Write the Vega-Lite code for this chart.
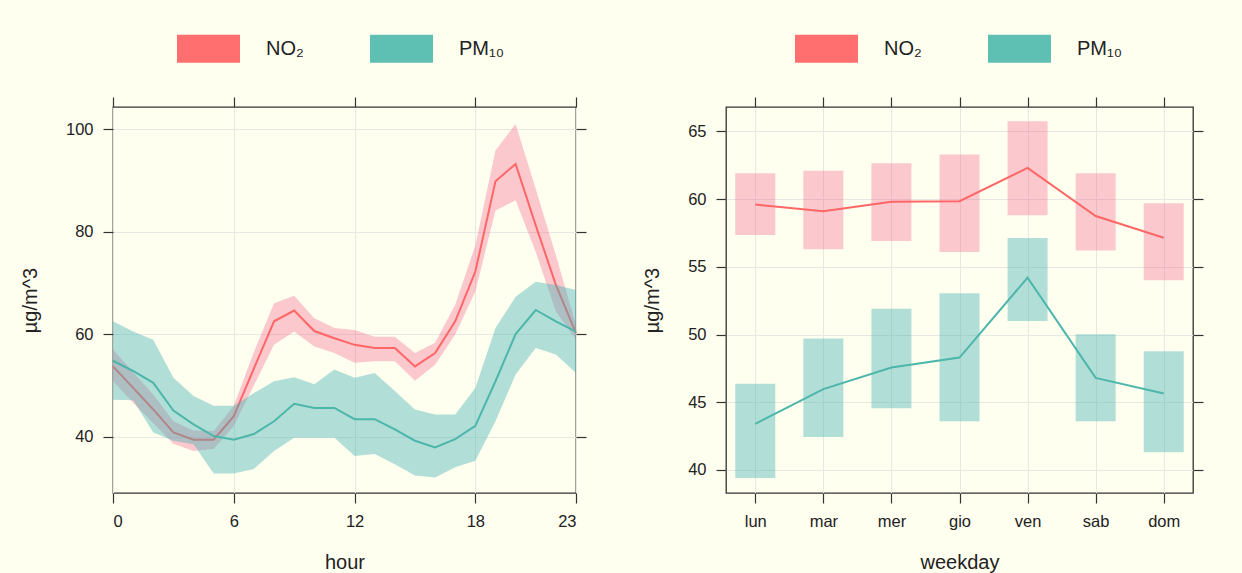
{
  "$schema": "https://vega.github.io/schema/vega-lite/v6.json",
  "padding": {"left": 19, "top": 16, "right": 39, "bottom": 10},
  "background": "#FFFFF0",
  "datasets": {
    "hourly": [
      {"hour": 0, "pollutant": "NO2", "mean": 53.7, "lower": 50.8, "upper": 57.0},
      {"hour": 1, "pollutant": "NO2", "mean": 49.5, "lower": 46.6, "upper": 52.6},
      {"hour": 2, "pollutant": "NO2", "mean": 45.3, "lower": 42.6, "upper": 48.2},
      {"hour": 3, "pollutant": "NO2", "mean": 40.8, "lower": 38.6, "upper": 43.0},
      {"hour": 4, "pollutant": "NO2", "mean": 39.4, "lower": 37.2, "upper": 41.2},
      {"hour": 5, "pollutant": "NO2", "mean": 39.4, "lower": 37.6, "upper": 41.1},
      {"hour": 6, "pollutant": "NO2", "mean": 44.0, "lower": 42.0, "upper": 46.0},
      {"hour": 7, "pollutant": "NO2", "mean": 53.3, "lower": 50.0, "upper": 56.5},
      {"hour": 8, "pollutant": "NO2", "mean": 62.5, "lower": 57.9, "upper": 66.0},
      {"hour": 9, "pollutant": "NO2", "mean": 64.6, "lower": 60.5, "upper": 67.5},
      {"hour": 10, "pollutant": "NO2", "mean": 60.6, "lower": 57.6, "upper": 63.1},
      {"hour": 11, "pollutant": "NO2", "mean": 59.2, "lower": 56.3, "upper": 61.2},
      {"hour": 12, "pollutant": "NO2", "mean": 57.9, "lower": 54.4, "upper": 60.8},
      {"hour": 13, "pollutant": "NO2", "mean": 57.3, "lower": 54.7, "upper": 59.5},
      {"hour": 14, "pollutant": "NO2", "mean": 57.3, "lower": 54.7, "upper": 59.5},
      {"hour": 15, "pollutant": "NO2", "mean": 53.7, "lower": 50.9, "upper": 56.3},
      {"hour": 16, "pollutant": "NO2", "mean": 56.3, "lower": 54.0, "upper": 58.3},
      {"hour": 17, "pollutant": "NO2", "mean": 62.5, "lower": 59.9, "upper": 65.7},
      {"hour": 18, "pollutant": "NO2", "mean": 72.2, "lower": 68.3, "upper": 77.3},
      {"hour": 19, "pollutant": "NO2", "mean": 89.8, "lower": 84.1, "upper": 95.8},
      {"hour": 20, "pollutant": "NO2", "mean": 93.2, "lower": 86.1, "upper": 101.0},
      {"hour": 21, "pollutant": "NO2", "mean": 81.2, "lower": 76.0, "upper": 88.3},
      {"hour": 22, "pollutant": "NO2", "mean": 69.6, "lower": 64.4, "upper": 75.4},
      {"hour": 23, "pollutant": "NO2", "mean": 60.2, "lower": 58.9, "upper": 61.8},
      {"hour": 0, "pollutant": "PM10", "mean": 54.8, "lower": 47.2, "upper": 62.5},
      {"hour": 1, "pollutant": "PM10", "mean": 52.8, "lower": 47.1, "upper": 60.5},
      {"hour": 2, "pollutant": "PM10", "mean": 50.5, "lower": 40.8, "upper": 58.9},
      {"hour": 3, "pollutant": "PM10", "mean": 45.1, "lower": 39.2, "upper": 51.5},
      {"hour": 4, "pollutant": "PM10", "mean": 42.4, "lower": 38.5, "upper": 47.9},
      {"hour": 5, "pollutant": "PM10", "mean": 40.1, "lower": 32.8, "upper": 46.0},
      {"hour": 6, "pollutant": "PM10", "mean": 39.4, "lower": 32.8, "upper": 46.0},
      {"hour": 7, "pollutant": "PM10", "mean": 40.5, "lower": 33.7, "upper": 48.5},
      {"hour": 8, "pollutant": "PM10", "mean": 43.0, "lower": 37.2, "upper": 50.8},
      {"hour": 9, "pollutant": "PM10", "mean": 46.4, "lower": 39.8, "upper": 51.6},
      {"hour": 10, "pollutant": "PM10", "mean": 45.6, "lower": 39.8, "upper": 50.2},
      {"hour": 11, "pollutant": "PM10", "mean": 45.6, "lower": 39.8, "upper": 53.1},
      {"hour": 12, "pollutant": "PM10", "mean": 43.4, "lower": 36.2, "upper": 51.5},
      {"hour": 13, "pollutant": "PM10", "mean": 43.4, "lower": 36.6, "upper": 52.4},
      {"hour": 14, "pollutant": "PM10", "mean": 41.4, "lower": 34.6, "upper": 48.9},
      {"hour": 15, "pollutant": "PM10", "mean": 39.2, "lower": 32.4, "upper": 45.3},
      {"hour": 16, "pollutant": "PM10", "mean": 37.9, "lower": 32.0, "upper": 44.3},
      {"hour": 17, "pollutant": "PM10", "mean": 39.5, "lower": 34.0, "upper": 44.3},
      {"hour": 18, "pollutant": "PM10", "mean": 42.1, "lower": 35.3, "upper": 49.5},
      {"hour": 19, "pollutant": "PM10", "mean": 50.8, "lower": 43.0, "upper": 61.2},
      {"hour": 20, "pollutant": "PM10", "mean": 60.0, "lower": 52.1, "upper": 67.3},
      {"hour": 21, "pollutant": "PM10", "mean": 64.7, "lower": 57.3, "upper": 70.2},
      {"hour": 22, "pollutant": "PM10", "mean": 62.5, "lower": 56.0, "upper": 69.6},
      {"hour": 23, "pollutant": "PM10", "mean": 60.5, "lower": 52.4, "upper": 68.6}
    ],
    "weekly": [
      {"weekday": "lun", "pollutant": "NO2", "mean": 59.6, "lower": 57.35, "upper": 61.9},
      {"weekday": "mar", "pollutant": "NO2", "mean": 59.1, "lower": 56.3, "upper": 62.1},
      {"weekday": "mer", "pollutant": "NO2", "mean": 59.8, "lower": 56.9, "upper": 62.65},
      {"weekday": "gio", "pollutant": "NO2", "mean": 59.85, "lower": 56.1, "upper": 63.3},
      {"weekday": "ven", "pollutant": "NO2", "mean": 62.3, "lower": 58.8, "upper": 65.75},
      {"weekday": "sab", "pollutant": "NO2", "mean": 58.75, "lower": 56.2, "upper": 61.9},
      {"weekday": "dom", "pollutant": "NO2", "mean": 57.15, "lower": 54.0, "upper": 59.7},
      {"weekday": "lun", "pollutant": "PM10", "mean": 43.4, "lower": 39.4, "upper": 46.36},
      {"weekday": "mar", "pollutant": "PM10", "mean": 45.97, "lower": 42.43, "upper": 49.7},
      {"weekday": "mer", "pollutant": "PM10", "mean": 47.57, "lower": 44.55, "upper": 51.9},
      {"weekday": "gio", "pollutant": "PM10", "mean": 48.3, "lower": 43.59, "upper": 53.05},
      {"weekday": "ven", "pollutant": "PM10", "mean": 54.2, "lower": 51.0, "upper": 57.13},
      {"weekday": "sab", "pollutant": "PM10", "mean": 46.8, "lower": 43.59, "upper": 50.02},
      {"weekday": "dom", "pollutant": "PM10", "mean": 45.65, "lower": 41.3, "upper": 48.77}
    ]
  },
  "hconcat": [
    {
      "width": 463,
      "height": 386,
      "data": {"name": "hourly"},
      "encoding": {
        "x": {"field": "hour", "type": "quantitative", "scale": {"domain": [0, 23], "nice": false, "zero": false}, "axis": null},
        "y": {"type": "quantitative", "scale": {"domain": [29, 104.3], "nice": false, "zero": false}, "axis": null}
      },
      "layer": [
        {
          "transform": [{"filter": "datum.pollutant == 'NO2'"}],
          "mark": {"type": "area", "color": "#F0628C", "opacity": 0.35},
          "encoding": {
            "x": {"field": "hour", "type": "quantitative", "title": "hour", "axis": {"values": [0, 6, 12, 18, 23], "grid": true, "titlePadding": 23}},
            "y": {"field": "upper", "type": "quantitative", "title": "µg/m^3", "axis": {"values": [40, 60, 80, 100], "grid": true, "titlePadding": 25}},
            "y2": {"field": "lower"}
          }
        },
        {
          "transform": [{"filter": "datum.pollutant == 'NO2'"}],
          "mark": {"type": "line", "color": "#FF6666", "strokeWidth": 2},
          "encoding": {"y": {"field": "mean", "type": "quantitative"}}
        },
        {
          "transform": [{"filter": "datum.pollutant == 'PM10'"}],
          "mark": {"type": "area", "color": "#44B2B4", "opacity": 0.42},
          "encoding": {
            "y": {"field": "upper", "type": "quantitative"},
            "y2": {"field": "lower"}
          }
        },
        {
          "transform": [{"filter": "datum.pollutant == 'PM10'"}],
          "mark": {"type": "line", "color": "#4DB6AA", "strokeWidth": 2},
          "encoding": {"y": {"field": "mean", "type": "quantitative"}}
        },
        {
          "mark": {"type": "point", "filled": true, "opacity": 0},
          "encoding": {
            "x": {"field": "hour", "type": "quantitative", "axis": {"orient": "top", "values": [0, 6, 12, 18, 23], "labels": false, "title": null}},
            "y": {"field": "mean", "type": "quantitative", "axis": {"orient": "right", "values": [40, 60, 80, 100], "labels": false, "title": null}},
            "color": {
              "field": "pollutant", "type": "nominal",
              "scale": {"domain": ["NO2", "PM10"], "range": ["#FF6F6F", "#5EBFB3"]},
              "legend": {"labelExpr": "datum.label == 'NO2' ? 'NO₂' : 'PM₁₀'", "legendX": 64, "legendY": -90}
            }
          }
        }
      ],
      "resolve": {"axis": {"x": "independent", "y": "independent"}}
    },
    {
      "width": 467,
      "height": 386,
      "data": {"name": "weekly"},
      "encoding": {
        "x": {"field": "weekday", "type": "ordinal", "scale": {"type": "point", "domain": ["lun", "mar", "mer", "gio", "ven", "sab", "dom"], "padding": 0.43}, "axis": null},
        "y": {"type": "quantitative", "scale": {"domain": [38.3, 66.8], "nice": false, "zero": false}, "axis": null}
      },
      "layer": [
        {
          "transform": [{"filter": "datum.pollutant == 'NO2'"}],
          "mark": {"type": "bar", "color": "#F0628C", "opacity": 0.35, "size": 40},
          "encoding": {
            "x": {"field": "weekday", "type": "ordinal", "title": "weekday", "axis": {"grid": true, "labelAngle": 0, "titlePadding": 23}},
            "y": {"field": "upper", "type": "quantitative", "title": "µg/m^3", "axis": {"values": [40, 45, 50, 55, 60, 65], "grid": true, "titlePadding": 25}},
            "y2": {"field": "lower"}
          }
        },
        {
          "transform": [{"filter": "datum.pollutant == 'NO2'"}],
          "mark": {"type": "line", "color": "#FF6666", "strokeWidth": 2},
          "encoding": {"y": {"field": "mean", "type": "quantitative"}}
        },
        {
          "transform": [{"filter": "datum.pollutant == 'PM10'"}],
          "mark": {"type": "bar", "color": "#44B2B4", "opacity": 0.42, "size": 40},
          "encoding": {
            "y": {"field": "upper", "type": "quantitative"},
            "y2": {"field": "lower"}
          }
        },
        {
          "transform": [{"filter": "datum.pollutant == 'PM10'"}],
          "mark": {"type": "line", "color": "#4DB6AA", "strokeWidth": 2},
          "encoding": {"y": {"field": "mean", "type": "quantitative"}}
        },
        {
          "mark": {"type": "point", "filled": true, "opacity": 0},
          "encoding": {
            "x": {"field": "weekday", "type": "ordinal", "axis": {"orient": "top", "labels": false, "title": null}},
            "y": {"field": "mean", "type": "quantitative", "axis": {"orient": "right", "values": [40, 45, 50, 55, 60, 65], "labels": false, "title": null}},
            "color": {
              "field": "pollutant", "type": "nominal",
              "scale": {"domain": ["NO2", "PM10"], "range": ["#FF6F6F", "#5EBFB3"]},
              "legend": {"labelExpr": "datum.label == 'NO2' ? 'NO₂' : 'PM₁₀'", "legendX": 69, "legendY": -90}
            }
          }
        }
      ],
      "resolve": {"axis": {"x": "independent", "y": "independent"}}
    }
  ],
  "spacing": 53,
  "resolve": {"scale": {"color": "independent"}, "legend": {"color": "independent"}},
  "config": {
    "font": "Liberation Sans",
    "view": {"stroke": "#333333", "strokeWidth": 1.3},
    "axis": {
      "domain": false,
      "grid": false,
      "gridColor": "#E8E8E2",
      "gridWidth": 1,
      "ticks": true,
      "tickColor": "#333333",
      "tickWidth": 1.2,
      "tickSize": 10,
      "labelFont": "Liberation Sans",
      "labelFontSize": 16.5,
      "labelColor": "#222222",
      "labelPadding": 10,
      "titleFont": "Liberation Sans",
      "titleFontSize": 20,
      "titleFontWeight": "normal",
      "titleColor": "#222222",
      "titlePadding": 18
    },
    "legend": {
      "orient": "none",
      "direction": "horizontal",
      "title": null,
      "labelFont": "Liberation Sans",
      "labelFontSize": 20,
      "labelColor": "#222222",
      "labelOffset": 26,
      "columnPadding": 66,
      "symbolType": "M-1,-0.444H1V0.444H-1Z",
      "symbolSize": 3969,
      "symbolOpacity": 1,
      "symbolStrokeWidth": 0
    }
  }
}
